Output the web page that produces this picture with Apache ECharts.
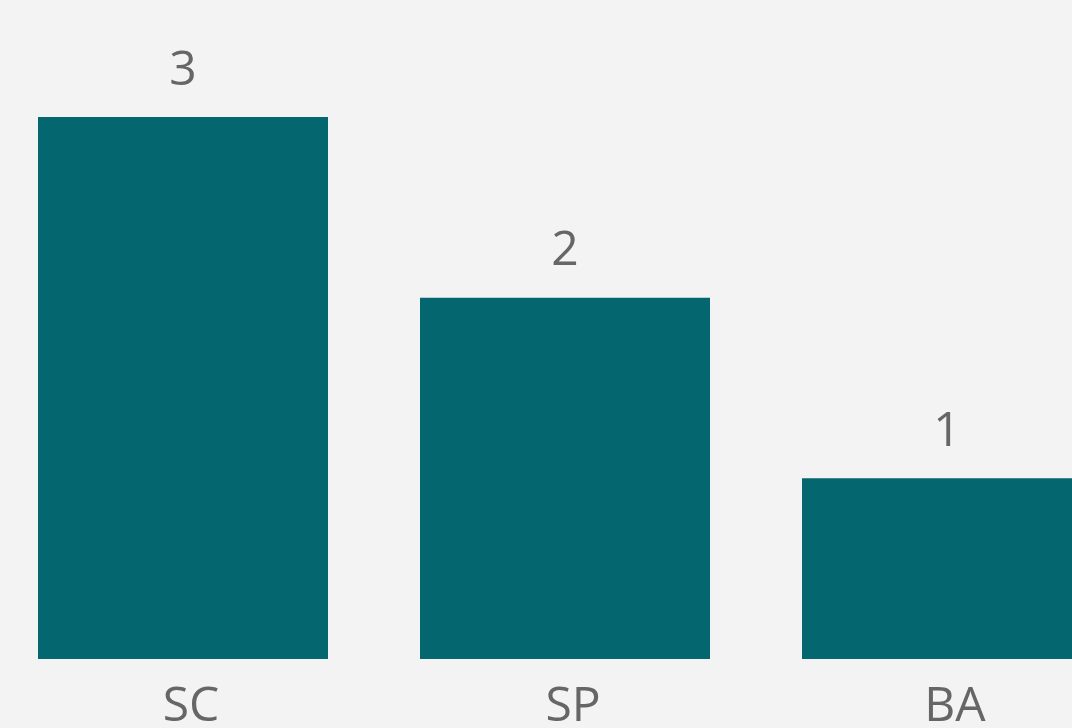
<!DOCTYPE html>
<html>
<head>
<meta charset="utf-8">
<style>
  html, body { margin: 0; padding: 0; background: #f3f3f3; }
  #chart { width: 1072px; height: 728px; }
</style>
<script src="https://cdn.jsdelivr.net/npm/echarts@6/dist/echarts.min.js"></script>
</head>
<body>
<div id="chart"></div>
<script>
  const categories = ['SC', 'SP', 'BA']
  const counts = [3, 2, 1]

  const textColor = '#666666'
  const fontFamily = '"Open Sans", "Noto Sans", sans-serif'

  const chart = echarts.init(document.getElementById('chart'))
  chart.setOption({
    backgroundColor: '#f3f3f3',
    animation: false,
    grid: {
      left: -8,
      width: 1146,
      top: 117,
      bottom: 69,
      containLabel: false,
      outerBoundsMode: 'none'
    },
    xAxis: {
      type: 'category',
      data: categories,
      axisLine: { show: false },
      axisTick: { show: false },
      axisLabel: {
        color: textColor,
        fontFamily: fontFamily,
        fontSize: 48,
        margin: 24,
        padding: [0, 0, 0, 16]
      }
    },
    yAxis: {
      type: 'value',
      min: 0,
      max: 3,
      show: false,
      splitLine: { show: false }
    },
    series: [{
      type: 'bar',
      data: counts,
      barWidth: 290,
      itemStyle: { color: '#04666e' },
      label: {
        show: true,
        position: 'top',
        distance: 22,
        color: textColor,
        fontFamily: fontFamily,
        fontSize: 48
      }
    }]
  })
</script>
</body>
</html>
